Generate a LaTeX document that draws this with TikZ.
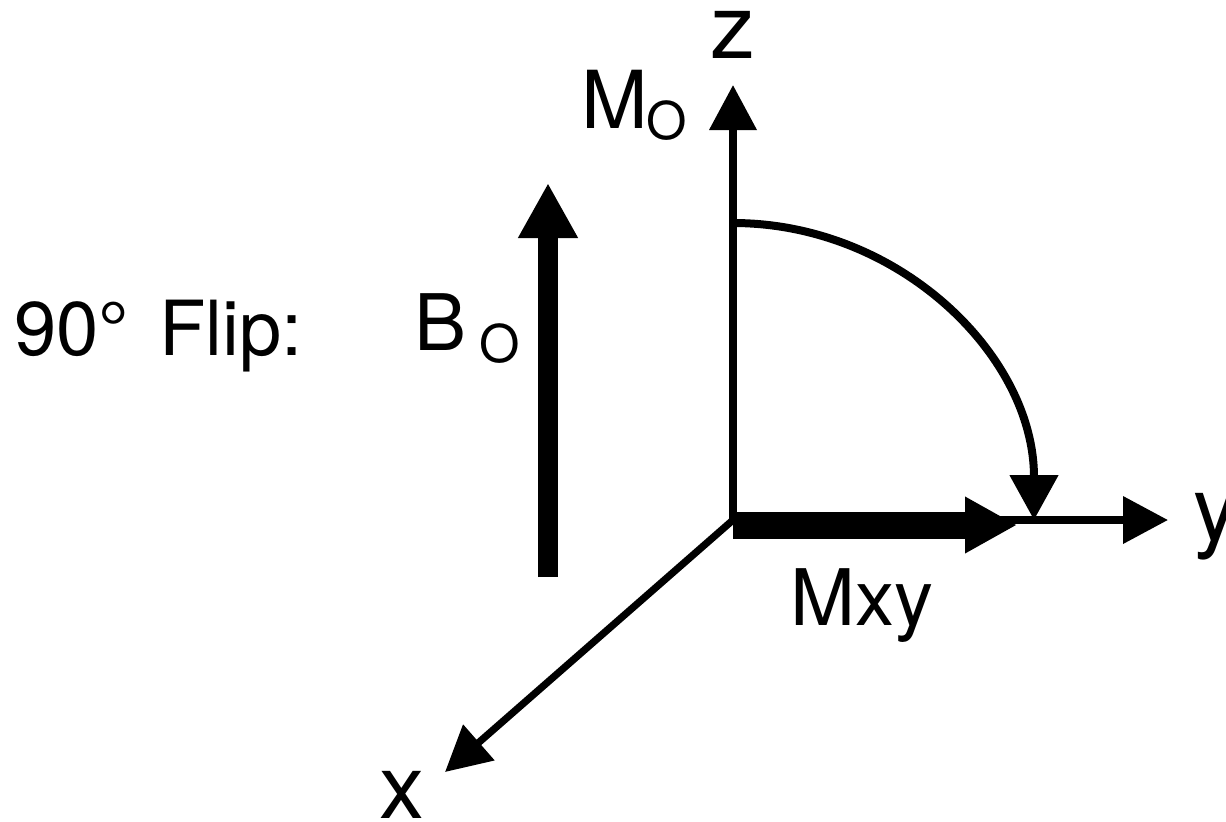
\documentclass[tikz,border=0pt]{standalone}
\usepackage{fontspec}
\setmainfont{TeX Gyre Heros}
\usetikzlibrary{arrows.meta}
\begin{document}
\begin{tikzpicture}[x=0.5pt,y=-0.5pt,
  axis/.style={line width=3.6pt, -{Triangle[length=22.5pt,width=23pt]}},
  turn/.style={line width=4pt, -{Triangle[length=22.5pt,width=23.5pt]}},
  fieldarrow/.style={line width=10pt, -{Triangle[length=27.5pt,width=28pt]}},
  magarrow/.style={line width=13.5pt, -{Triangle[length=26pt,width=26.5pt]}},
  axislabel/.style={inner sep=0pt, font=\fontsize{45}{50}\selectfont},
  biglabel/.style={inner sep=0pt, font=\fontsize{39}{46}\selectfont},
  sublabel/.style={inner sep=0pt, font=\fontsize{26}{30}\selectfont}
]
\useasboundingbox (0,0) rectangle (1226,821);
% coordinates
\coordinate (O) at (733,520);
\coordinate (ztip) at (733,85);
\coordinate (ytip) at (1168,520);
\coordinate (xtip) at (445,772);
\coordinate (arcstart) at (733,223);
\coordinate (Bbot) at (548,577);
\coordinate (Btip) at (548,183);
\coordinate (Mstart) at (733,525);
\coordinate (Mtip) at (1017,525);
% axes
\draw[axis] (O) -- (ztip);
\draw[axis] (O) -- (ytip);
\draw[axis] (O) -- (xtip);
% magnetisation in xy plane
\draw[magarrow] (Mstart) -- (Mtip);
% rotation arc
\draw[turn] (arcstart) arc[start angle=90,end angle=0,x radius=150.5pt,y radius=148.5pt];
% B0 field
\draw[fieldarrow] (Bbot) -- (Btip);
% labels
\node[axislabel, anchor=base] (zl) at (733,58) {z};
\node[axislabel, anchor=base west] (yl) at (1193,540) {y};
\node[axislabel, anchor=base] (xl) at (402,818) {x};
\node[inner sep=0pt, anchor=base west, font=\fontsize{38}{46}\selectfont] (flip) at (14,355) {90°\hspace{15pt}Flip:};
\node[biglabel, anchor=base west] (mxy) at (790,625) {Mxy};
\node[inner sep=0pt, anchor=base west, font=\fontsize{40}{46}\selectfont] (mo) at (581,128) {M};
\node[sublabel, anchor=base west] (mosub) at (646,139) {O};
\node[biglabel, anchor=base west] (bo) at (414,350) {B};
\node[sublabel, anchor=base west] (bosub) at (479,362) {O};
\end{tikzpicture}
\end{document}
